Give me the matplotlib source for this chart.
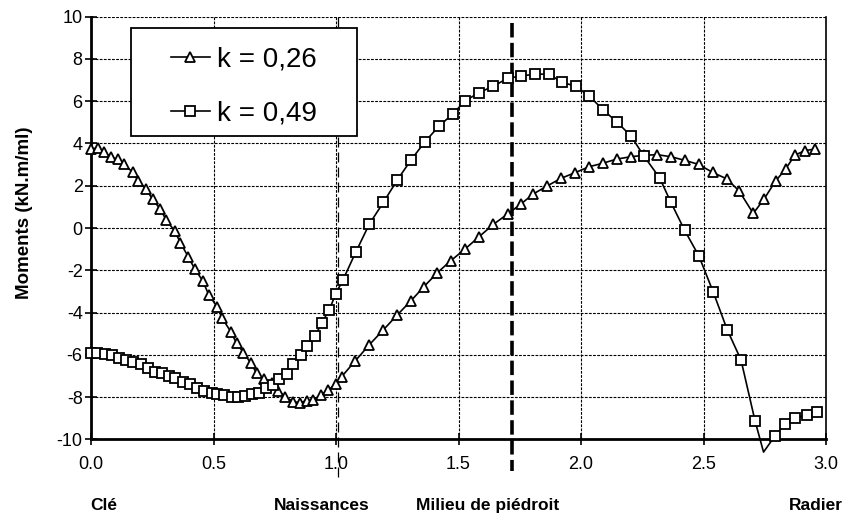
import numpy as np
import matplotlib
matplotlib.use("Agg")
import matplotlib.pyplot as plt
from matplotlib.lines import Line2D
from matplotlib.patches import Rectangle
from matplotlib.ticker import FormatStrFormatter

plt.rcParams['font.family'] = ['Liberation Sans', 'DejaVu Sans']
plt.rcParams['axes.unicode_minus'] = False

# k = 0,26 (triangles)
x_026 = [0.000, 0.027, 0.054, 0.080, 0.111, 0.136, 0.170, 0.193, 0.224, 0.251,
         0.283, 0.307, 0.341, 0.365, 0.397, 0.423, 0.456, 0.480, 0.514, 0.536,
         0.570, 0.594, 0.622, 0.652, 0.676, 0.707, 0.737, 0.765, 0.792, 0.826,
         0.853, 0.880, 0.907, 0.938, 0.969, 0.998, 1.023, 1.078, 1.136, 1.193,
         1.250, 1.306, 1.359, 1.414, 1.468, 1.527, 1.584, 1.642, 1.700, 1.754,
         1.805, 1.862, 1.918, 1.976, 2.033, 2.088, 2.145, 2.202, 2.257, 2.311,
         2.368, 2.424, 2.480, 2.537, 2.594, 2.645, 2.703, 2.747, 2.794, 2.835,
         2.873, 2.914, 2.955]
m_026 = [3.75, 3.77, 3.61, 3.34, 3.25, 3.01, 2.63, 2.22, 1.85, 1.36,
         0.89, 0.37, -0.13, -0.70, -1.37, -1.93, -2.50, -3.15, -3.72, -4.28,
         -4.90, -5.45, -5.89, -6.39, -6.87, -7.15, -7.34, -7.69, -7.98, -8.22,
         -8.26, -8.17, -8.13, -7.90, -7.66, -7.38, -7.03, -6.29, -5.52, -4.82,
         -4.11, -3.44, -2.77, -2.11, -1.55, -0.99, -0.41, 0.17, 0.66, 1.13,
         1.61, 1.99, 2.35, 2.62, 2.90, 3.06, 3.26, 3.37, 3.44, 3.47,
         3.37, 3.20, 3.01, 2.63, 2.33, 1.76, 0.69, 1.37, 2.22, 2.79,
         3.45, 3.66, 3.74]

# k = 0,49 (carrés)
x_049 = [0.000, 0.023, 0.057, 0.084, 0.116, 0.143, 0.173, 0.204, 0.234, 0.261,
         0.289, 0.320, 0.343, 0.377, 0.404, 0.431, 0.461, 0.493, 0.513, 0.544,
         0.574, 0.601, 0.629, 0.656, 0.686, 0.713, 0.741, 0.768, 0.799, 0.826,
         0.856, 0.880, 0.914, 0.942, 0.973, 0.998, 1.028, 1.081, 1.136, 1.193,
         1.250, 1.306, 1.363, 1.420, 1.476, 1.527, 1.585, 1.642, 1.700, 1.755,
         1.812, 1.869, 1.923, 1.978, 2.034, 2.091, 2.148, 2.204, 2.257, 2.321,
         2.367, 2.423, 2.481, 2.540, 2.597, 2.653, 2.710, 2.745, 2.792, 2.833,
         2.873, 2.921, 2.962]
m_049 = [-5.89, -5.89, -5.96, -6.00, -6.13, -6.24, -6.32, -6.43, -6.63, -6.79,
         -6.84, -7.00, -7.11, -7.27, -7.38, -7.58, -7.69, -7.82, -7.86, -7.90,
         -7.98, -7.98, -7.94, -7.85, -7.79, -7.58, -7.42, -7.15, -6.90, -6.43,
         -6.00, -5.58, -5.11, -4.48, -3.86, -3.13, -2.46, -1.13, 0.19, 1.21,
         2.27, 3.22, 4.08, 4.82, 5.39, 6.02, 6.41, 6.71, 7.08, 7.19,
         7.28, 7.28, 6.89, 6.71, 6.24, 5.58, 5.00, 4.35, 3.40, 2.37,
         1.21, -0.11, -1.32, -3.04, -4.82, -6.24, -9.11, -10.6, -9.83, -9.27,
         -9.00, -8.84, -8.71]

x_ticks = [0.0, 0.5, 1.0, 1.5, 2.0, 2.5, 3.0]
y_ticks = list(range(-10, 11, 2))
labels = ["k = 0,26", "k = 0,49"]
positions = ["Clé", "Naissances", "Milieu de piédroit", "Radier"]
pos_x = [0.05, 0.94, 1.62, 2.96]
x_naissances = 1.01
x_milieu = 1.72

fig = plt.figure(figsize=(8.59, 5.2), dpi=100)
ax = fig.add_axes([0.106, 0.155, 0.8556, 0.813])

grid_style = dict(color='black', lw=0.8, ls=(0, (2.5, 1.2)))
ax.set_xlim(0, 3)
ax.set_ylim(-10, 10)
ax.set_xticks(x_ticks)
ax.set_yticks(y_ticks)
ax.grid(True, **grid_style)
ax.set_axisbelow(True)

series = [(x_026, m_026, '^', 7.5), (x_049, m_049, 's', 6.5)]
handles = []
for (xs, ys, mk, ms), lab in zip(series, labels):
    xs = np.array(xs)
    ys = np.array(ys)
    ax.plot(xs, ys, color='black', lw=1.2, clip_on=False, zorder=3)
    keep = ys >= -10
    ax.plot(xs[keep], ys[keep], ls='none', marker=mk, ms=ms, mfc='white',
            mec='black', mew=1.3, clip_on=False, zorder=4)
    handles.append(Line2D([], [], color='black', lw=1.2, marker=mk, ms=ms,
                          mfc='white', mec='black', mew=1.3))

# lignes verticales de repère
ax.plot([x_naissances, x_naissances], [10, -12.0], color='black', lw=0.9,
        ls=(0, (8, 4)), clip_on=False, zorder=2)
ax.plot([x_milieu, x_milieu], [9.7, -11.5], color='black', lw=2.6,
        ls=(0, (4, 1.5)), clip_on=False, zorder=2)

ax.spines['top'].set_visible(False)
ax.spines['left'].set_linewidth(2)
ax.spines['bottom'].set_linewidth(2)
ax.spines['right'].set_linewidth(1.2)

ax.xaxis.set_major_formatter(FormatStrFormatter('%.1f'))
ax.tick_params(axis='both', direction='inout', length=8, width=1.2,
               labelsize=13, colors='black')
ax.tick_params(axis='x', pad=8)
ax.tick_params(axis='y', pad=2)
ax.tick_params(right=False, top=False)

ax.set_ylabel("Moments (kN.m/ml)", fontsize=13.5, fontweight='bold')
ax.yaxis.set_label_coords(-0.079, 0.537)

for lab, px in zip(positions, pos_x):
    ax.text(px, -0.157, lab, transform=ax.get_xaxis_transform(), ha='center',
            va='center', fontsize=12.5, fontweight='bold')

# cadre de la légende
ax.add_patch(Rectangle((0.054, 0.7175), 0.308, 0.2555, transform=ax.transAxes,
                       facecolor='white', edgecolor='black', lw=1.3, zorder=5))
leg = ax.legend(handles, labels, loc='center', bbox_to_anchor=(0.208, 0.835),
                frameon=False, fontsize=20, handlelength=1.4,
                handletextpad=0.25, labelspacing=1.0)
leg.set_zorder(6)

fig.savefig("out.png", dpi=100)
